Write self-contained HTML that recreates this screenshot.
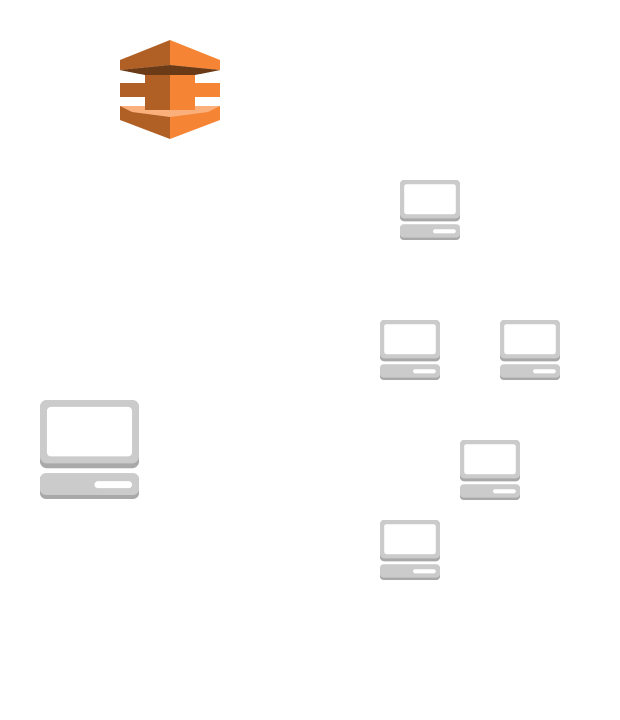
<!DOCTYPE html>
<html><head><style>
html,body{margin:0;padding:0;background:#fff;width:620px;height:720px;overflow:hidden}
svg{position:absolute;left:0;top:0}
</style></head><body>
<svg width="620" height="720" viewBox="0 0 620 720">
<defs>
<g id="pc">
<rect x="0" y="0" width="100" height="69" rx="7" fill="#a9a9a9"/>
<rect x="0" y="0" width="100" height="64" rx="7" fill="#cbcbcb"/>
<rect x="7" y="7" width="86" height="50" rx="4" fill="#fff"/>
<rect x="0" y="74" width="100" height="26" rx="6" fill="#a9a9a9"/>
<rect x="0" y="74" width="100" height="22" rx="6" fill="#cbcbcb"/>
<rect x="55" y="82" width="38" height="7" rx="3.5" fill="#fff"/>
</g>
</defs>
<!-- orange icon -->
<g>
<polygon points="120,106 170,106 170,139 120,120" fill="#b05f25"/>
<polygon points="170,106 220,106 220,120 170,139" fill="#f58534"/>
<polygon points="120,106 220,106 208,112 170,117 132,112" fill="#fbb07c"/>
<rect x="120" y="83" width="50" height="14" fill="#b05f25"/>
<rect x="170" y="83" width="50" height="14" fill="#f58534"/>
<rect x="145" y="70" width="25" height="40" fill="#b05f25"/>
<rect x="170" y="70" width="25" height="40" fill="#f58534"/>
<polygon points="120,70 220,70 195,75 145,75" fill="#6b3a16"/>
<polygon points="120,60 170,40 170,65 120,70" fill="#b05f25"/>
<polygon points="170,40 220,60 220,70 170,65" fill="#f58534"/>
<polygon points="120,70 170,65 220,70 200,74 140,74" fill="#6b3a16"/>
</g>
<use href="#pc" transform="translate(40,400) scale(0.99,0.99)"/>
<use href="#pc" transform="translate(400,180) scale(0.6)"/>
<use href="#pc" transform="translate(380,320) scale(0.6)"/>
<use href="#pc" transform="translate(500,320) scale(0.6)"/>
<use href="#pc" transform="translate(460,440) scale(0.6)"/>
<use href="#pc" transform="translate(380,520) scale(0.6)"/>
</svg>
</body></html>
